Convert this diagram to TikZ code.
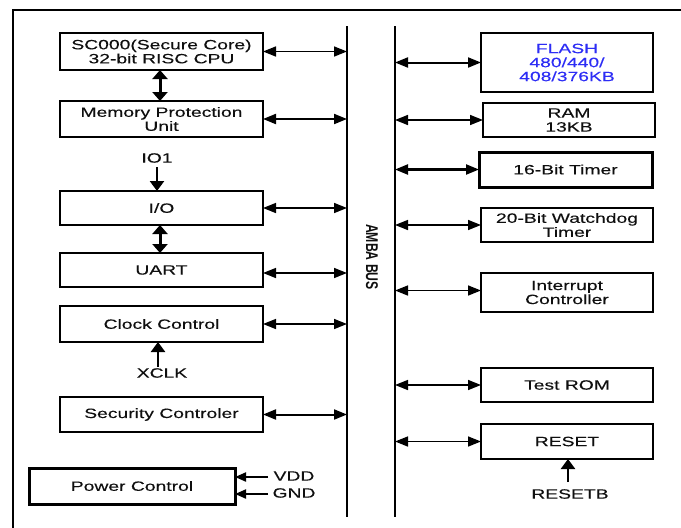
\documentclass[tikz,border=0pt]{standalone}
\usepackage{fontspec}
\setmainfont{Liberation Sans}[FakeStretch=1.43,FakeBold=0.2]
\newfontfamily\ambafont{Liberation Sans}[FakeStretch=0.72]
\usetikzlibrary{arrows.meta}
\definecolor{txt}{RGB}{15,15,15}
\definecolor{flashblue}{RGB}{45,45,245}
\begin{document}
\begin{tikzpicture}[x=1pt,y=-1pt,
  every node/.style={inner sep=0pt,outer sep=0pt,text=txt,font=\fontsize{13.5}{14}\selectfont,align=center},
  blk/.style={draw=black,line width=2pt,anchor=north west},
  dbl/.style={line width=1.5pt,{Triangle[length=13pt,width=10pt]}-{Triangle[length=13pt,width=10pt]}},
  vdbl/.style={line width=3pt,{Triangle[length=9pt,width=15pt]}-{Triangle[length=9pt,width=15pt]}},
  sig/.style={line width=2.4pt,-{Triangle[length=10pt,width=14pt]}},
  pwr/.style={line width=2pt,-{Triangle[length=11pt,width=9pt]}},
  bus/.style={line width=1.5pt}]
\useasboundingbox (0,0) rectangle (681,528);
% frame (cropped)
\coordinate (frTR) at (690,10);
\coordinate (frTL) at (13,10);
\coordinate (frBL) at (13,540);
\draw[line width=2.2pt] (frTR) -- (frTL) -- (frBL);
% buses
\coordinate (bLt) at (347,26);
\coordinate (bLb) at (347,517);
\coordinate (bRt) at (395,26);
\coordinate (bRb) at (395,517);
\draw[bus] (bLt) -- (bLb);
\draw[bus,line width=2.6pt] (bRt) -- (bRb);
\node[rotate=-90,font=\ambafont\bfseries\fontsize{17}{17}\selectfont] (amba) at (372,257) {AMBA BUS};
% left blocks
\node[blk,minimum width=203pt,minimum height=37pt] (sc) at (60,33) {SC000(Secure Core)\\32-bit RISC CPU};
\node[blk,minimum width=203pt,minimum height=36pt] (mpu) at (60,101) {Memory Protection\\Unit};
\node[blk,minimum width=203pt,minimum height=34pt] (io) at (60,191) {I/O};
\node[blk,minimum width=203pt,minimum height=34pt] (uart) at (60,253) {UART};
\node[blk,minimum width=203pt,minimum height=36pt] (clk) at (60,306) {Clock Control};
\node[blk,minimum width=203pt,minimum height=35pt] (sec) at (60,397) {Security Controler};
\node[blk,line width=3pt,minimum width=206pt,minimum height=36pt] (pc) at (29,468) {Power Control};
% left labels
\node (io1) at (157,158) {IO1};
\coordinate (io1s) at (157,167);
\node (xclk) at (162,373) {XCLK};
\coordinate (xclks) at (158,367);
\node (vdd) at (294,476) {VDD};
\node (gnd) at (294,493) {GND};
\coordinate (vdds) at (268,477);
\coordinate (gnds) at (268,494);
% right blocks
\node[blk,line width=2.5pt,minimum width=172pt,minimum height=59pt,text=flashblue] (flash) at (481,33) {FLASH\\480/440/\\408/376KB};
\node[blk,minimum width=172pt,minimum height=34pt] (ram) at (483,103) {RAM\\13KB};
\node[blk,line width=3pt,minimum width=173pt,minimum height=35pt] (tim) at (479,152) {16-Bit Timer};
\node[blk,minimum width=172pt,minimum height=34pt] (wdt) at (481,208) {20-Bit Watchdog\\Timer};
\node[blk,minimum width=172pt,minimum height=39pt] (irq) at (481,273) {Interrupt\\Controller};
\node[blk,minimum width=172pt,minimum height=34pt] (rom) at (481,368) {Test ROM};
\node[blk,minimum width=172pt,minimum height=35pt] (rst) at (481,424) {RESET};
\node (rstb) at (570,494) {RESETB};
\coordinate (rstbs) at (568,482);
% vertical arrows
\draw[vdbl] (sc.south -| 160,0) -- (mpu.north -| 160,0);
\draw[vdbl] (io.south -| 160,0) -- (uart.north -| 160,0);
\draw[sig] (io1s) -- (io1s |- io.north);
\draw[sig] (xclks) -- (xclks |- clk.south);
\draw[sig] (rstbs) -- (rstbs |- rst.south);
\draw[pwr] (vdds) -- (vdds -| pc.east);
\draw[pwr] (gnds) -- (gnds -| pc.east);
% left bus arrows
\draw[dbl] (sc.east) -- (sc.east -| bLt);
\draw[dbl,line width=2pt] (mpu.east) -- (mpu.east -| bLt);
\draw[dbl] (io.east) -- (io.east -| bLt);
\draw[dbl] ([yshift=-3pt]uart.east) -- ([yshift=-3pt]uart.east -| bLt);
\draw[dbl] (clk.east) -- (clk.east -| bLt);
\draw[dbl,line width=2pt] (sec.east) -- (sec.east -| bLt);
% right bus arrows
\draw[dbl,line width=2pt] (bRt |- flash.west) -- (flash.west);
\draw[dbl] (bRt |- ram.west) -- (ram.west);
\draw[dbl,line width=2.2pt] (bRt |- tim.west) -- (tim.west);
\draw[dbl] (bRt |- wdt.west) -- (wdt.west);
\draw[dbl] ([yshift=2pt]bRt |- irq.west) -- ([yshift=2pt]irq.west);
\draw[dbl] (bRt |- rom.west) -- (rom.west);
\draw[dbl] (bRt |- rst.west) -- (rst.west);
\end{tikzpicture}
\end{document}
